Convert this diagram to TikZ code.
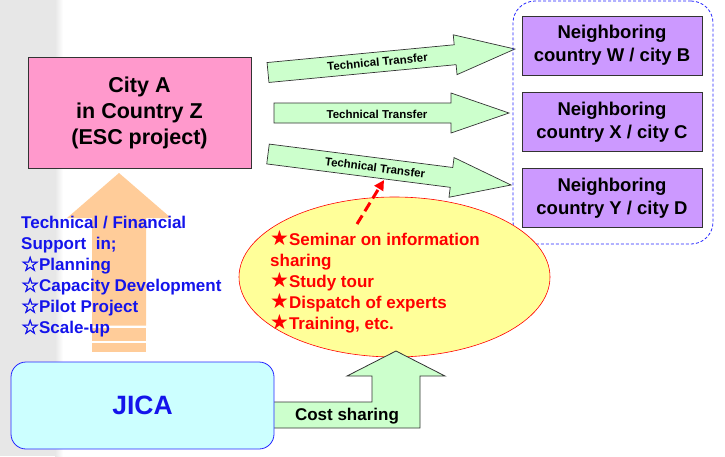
\documentclass[tikz,border=0pt]{standalone}
\usepackage{fontspec}
\setmainfont{Liberation Sans}
\newfontfamily\starfont{DejaVu Sans}
\newfontfamily\starboldfont[FakeBold=2.5]{DejaVu Sans}
\usetikzlibrary{shapes.geometric, arrows.meta}

\definecolor{pinkbox}{RGB}{255,153,204}
\definecolor{violetbox}{RGB}{204,153,255}
\definecolor{greenarrow}{RGB}{204,255,204}
\definecolor{cyanbox}{RGB}{204,255,255}
\definecolor{yellowfill}{RGB}{255,255,153}
\definecolor{peach}{RGB}{255,204,153}
\definecolor{supportblue}{RGB}{20,20,235}
\definecolor{stripgray}{RGB}{231,231,231}

\newcommand{\jstaropen}{{\starboldfont\mdseries\fontsize{20}{20}\selectfont\char"2606}}
\newcommand{\jstarfull}{{\starfont\fontsize{21}{21}\selectfont\char"2605}}

\tikzset{
  citybox/.style={draw=black!80, line width=0.8, fill=pinkbox, minimum width=223, minimum height=111,
    align=center, font=\bfseries\fontsize{21.5}{26}\selectfont},
  nbrbox/.style={draw=black!80, line width=0.8, fill=violetbox, minimum width=180, minimum height=59,
    align=center, font=\bfseries\fontsize{18.5}{23}\selectfont},
  groupbox/.style={draw=blue!85, dash pattern=on 3 off 2, line width=0.8, rounded corners=22, minimum width=200, minimum height=243},
  ttarrow/.style={draw=black!80, line width=0.7, fill=greenarrow},
  ttlabel/.style={inner sep=0, font=\bfseries\fontsize{11.5}{13}\selectfont},
  supporttext/.style={inner sep=0, align=left, text=supportblue, font=\bfseries\fontsize{17}{21}\selectfont},
  acttext/.style={inner sep=0, align=left, text=red, font=\bfseries\fontsize{17}{21}\selectfont},
  costarrow/.style={draw=black!80, line width=0.8, fill=greenarrow},
  jicabox/.style={draw=blue!85, line width=0.8, fill=cyanbox, rounded corners=15, minimum width=263, minimum height=87,
    text=supportblue, font=\bfseries\fontsize{26.5}{30}\selectfont},
  hintarrow/.style={draw=red, line width=3, dash pattern=on 10 off 5, -{Triangle[length=10, width=10]}}
}

\begin{document}
\begin{tikzpicture}[x=1pt, y=-1pt]
  \useasboundingbox (0,0) rectangle (725,456);
  % faded strip on the left
  \fill[stripgray] (0,0) rectangle (55,456);
  \shade[left color=stripgray, right color=white] (55,0) rectangle (63,456);

  % support arrow JICA -> City A
  \fill[peach] (119,173) -- (171,218) -- (146,218) -- (146,325.5) -- (92,325.5) -- (92,218) -- (67,218) -- cycle;
  \fill[peach] (92,327.5) rectangle (146,341);
  \fill[peach] (92,343) rectangle (146,352);
  \node[supporttext, anchor=west] (support) at (21,277) {Technical / Financial\\Support~ in;\\\jstaropen Planning\\\jstaropen Capacity Development\\\jstaropen Pilot Project\\\jstaropen Scale-up};

  \node[citybox] (cityA) at (139.5,112.5) {City A\\in Country Z\\(ESC project)};

  % technical transfer arrows
  \begin{scope}[shift={(268,72.5)}, rotate=5.43]
    \draw[ttarrow] (0,-10) -- (188,-10) -- (188,-20) -- (248,0) -- (188,20) -- (188,10) -- (0,10) -- cycle;
    \node[ttlabel, rotate=5.43] (tt1label) at (110,0) {Technical Transfer};
  \end{scope}
  \begin{scope}[shift={(274,113)}]
    \draw[ttarrow] (0,-10) -- (177,-10) -- (177,-20) -- (235,0) -- (177,20) -- (177,10) -- (0,10) -- cycle;
    \node[ttlabel] (tt2label) at (103,1) {Technical Transfer};
  \end{scope}
  \begin{scope}[shift={(268,154)}, rotate=-7.27]
    \draw[ttarrow] (0,-10) -- (185,-10) -- (185,-20) -- (245,0) -- (185,20) -- (185,10) -- (0,10) -- cycle;
    \node[ttlabel, rotate=-7.27] (tt3label) at (108,0) {Technical Transfer};
  \end{scope}

  % neighbors
  \node[nbrbox] (nbrW) at (612,45.5) {Neighboring\\country W / city B};
  \node[nbrbox] (nbrX) at (612,122) {Neighboring\\country X / city C};
  \node[nbrbox] (nbrY) at (612,198) {Neighboring\\country Y / city D};
  \node[groupbox] (group) at (613,122.5) {};

  % activities
  \node[ellipse, draw=red, line width=0.6, fill=yellowfill, minimum width=311, minimum height=160] (activities) at (394.5,277) {};
  \node[acttext, anchor=west] (actlist) at (270,281.5) {\jstarfull Seminar on information\\sharing\\\jstarfull Study tour\\\jstarfull Dispatch of experts\\\jstarfull Training, etc.};
  \coordinate (hintstart) at (357,224);
  \coordinate (hintend) at (384,180);
  \draw[hintarrow] (hintstart) -- (hintend);

  % cost sharing
  \draw[costarrow] (270,402) -- (372,402) -- (372,376) -- (347,376) -- (396,351) -- (445,376) -- (420,376) -- (420,428) -- (270,428) -- cycle;
  \node[font=\bfseries\fontsize{17}{20}\selectfont] (cost) at (347,416) {Cost sharing};
  \node[jicabox] (jica) at (142.5,405.5) {JICA};
\end{tikzpicture}
\end{document}
